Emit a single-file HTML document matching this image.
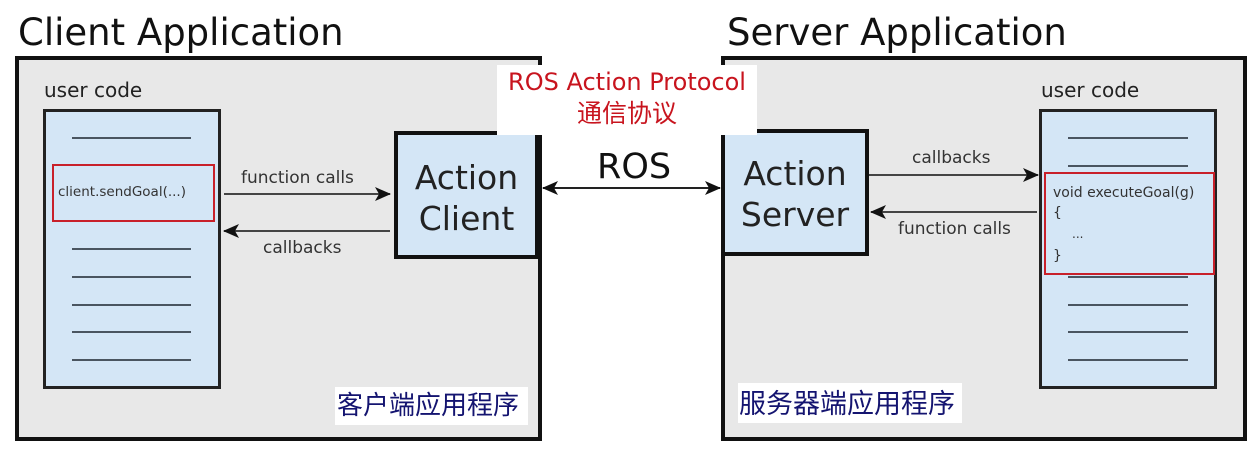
<!DOCTYPE html>
<html><head><meta charset="utf-8"><style>
body{margin:0;width:1255px;height:449px;background:#fff;overflow:hidden;position:relative;font-family:"DejaVu Sans","Liberation Sans","Noto Sans CJK SC",sans-serif;color:#222}
.a{position:absolute;box-sizing:border-box}
.t{position:absolute;white-space:nowrap;line-height:1}
.ln{position:absolute;height:2px;background:#4a5560}
</style></head><body>
<div class="t" style="left:18px;top:14px;font-size:37px;color:#111">Client Application</div>
<div class="t" style="left:727px;top:14px;font-size:37px;color:#111">Server Application</div>
<div class="a" style="left:15px;top:56px;width:527px;height:385px;border:4px solid #111;background:#e8e8e8"></div>
<div class="a" style="left:721px;top:56px;width:526px;height:385px;border:4px solid #111;background:#e8e8e8"></div>

<div class="t" style="left:44px;top:80px;font-size:20px">user code</div>
<div class="a" style="left:43px;top:109px;width:178px;height:280px;border:3px solid #222;background:#d4e6f6"></div>
<div class="ln" style="left:72px;top:137px;width:119px"></div>
<div class="ln" style="left:72px;top:165px;width:119px"></div>
<div class="ln" style="left:72px;top:248px;width:119px"></div>
<div class="ln" style="left:72px;top:276px;width:119px"></div>
<div class="ln" style="left:72px;top:304px;width:119px"></div>
<div class="ln" style="left:72px;top:331px;width:119px"></div>
<div class="ln" style="left:72px;top:359px;width:119px"></div>
<div class="a" style="left:52px;top:164px;width:163px;height:58px;border:2px solid #c8202a;background:#d4e6f6"></div>
<div class="t" style="left:58px;top:186px;font-size:13.5px;color:#333">client.sendGoal(...)</div>

<div class="t" style="left:1041px;top:80px;font-size:20px">user code</div>
<div class="a" style="left:1039px;top:109px;width:178px;height:280px;border:3px solid #222;background:#d4e6f6"></div>
<div class="ln" style="left:1068px;top:137px;width:120px"></div>
<div class="ln" style="left:1068px;top:165px;width:120px"></div>
<div class="ln" style="left:1068px;top:276px;width:120px"></div>
<div class="ln" style="left:1068px;top:304px;width:120px"></div>
<div class="ln" style="left:1068px;top:331px;width:120px"></div>
<div class="ln" style="left:1068px;top:359px;width:120px"></div>
<div class="a" style="left:1044px;top:172px;width:171px;height:103px;border:2px solid #c8202a;background:#d4e6f6"></div>
<div class="t" style="left:1053px;top:186px;font-size:14px;color:#333">void executeGoal(g)</div>
<div class="t" style="left:1053px;top:206px;font-size:14px;color:#333">{</div>
<div class="t" style="left:1072px;top:228px;font-size:12px;color:#333">...</div>
<div class="t" style="left:1053px;top:249px;font-size:14px;color:#333">}</div>

<div class="a" style="left:394px;top:131px;width:145px;height:128px;border:4px solid #111;background:#d4e6f6"></div>
<div class="t" style="left:394px;top:157px;width:145px;text-align:center;font-size:33px;line-height:41px">Action<br>Client</div>
<div class="a" style="left:721px;top:129px;width:148px;height:127px;border:4px solid #111;background:#d4e6f6"></div>
<div class="t" style="left:721px;top:153px;width:148px;text-align:center;font-size:33px;line-height:41px">Action<br>Server</div>

<div class="a" style="left:497px;top:65px;width:260px;height:70px;background:#fff"></div>
<div class="t" style="left:497px;top:70px;width:260px;text-align:center;font-size:24px;color:#c8141e">ROS Action Protocol</div>
<div class="t" style="left:497px;top:100px;width:260px;text-align:center;font-size:25px;color:#c8141e;font-family:'Noto Sans CJK SC',sans-serif">通信协议</div>
<div class="t" style="left:597px;top:150px;font-size:35px;color:#111">ROS</div>

<svg class="a" style="left:0;top:0" width="1255" height="449">
<defs>
<marker id="m" markerWidth="16" markerHeight="14" refX="15" refY="7" orient="auto" markerUnits="userSpaceOnUse"><path d="M0,0 L16,7 L0,14 L4,7z" fill="#111"/></marker>
<marker id="m2" markerWidth="16" markerHeight="14" refX="1" refY="7" orient="auto" markerUnits="userSpaceOnUse"><path d="M16,0 L0,7 L16,14 L12,7z" fill="#111"/></marker>
</defs>
<g stroke="#444" stroke-width="2" fill="none">
<line x1="224" y1="194" x2="390" y2="194" marker-end="url(#m)"/>
<line x1="390" y1="231" x2="224" y2="231" marker-end="url(#m)"/>
<line x1="869" y1="175" x2="1038" y2="175" marker-end="url(#m)"/>
<line x1="1037" y1="212" x2="871" y2="212" marker-end="url(#m)"/>
</g>
<line x1="543" y1="188" x2="720" y2="188" stroke="#222" stroke-width="2" marker-start="url(#m2)" marker-end="url(#m)"/>
</svg>
<div class="t" style="left:241px;top:170px;font-size:17px;color:#333">function calls</div>
<div class="t" style="left:263px;top:240px;font-size:17px;color:#333">callbacks</div>
<div class="t" style="left:912px;top:150px;font-size:17px;color:#333">callbacks</div>
<div class="t" style="left:898px;top:221px;font-size:17px;color:#333">function calls</div>

<div class="a" style="left:335px;top:387px;width:193px;height:38px;background:#fff"></div>
<div class="t" style="left:337px;top:391px;font-size:26px;color:#141470;font-family:'Noto Sans CJK SC',sans-serif">客户端应用程序</div>
<div class="a" style="left:738px;top:383px;width:224px;height:40px;background:#fff"></div>
<div class="t" style="left:739px;top:388px;font-size:27px;color:#141470;font-family:'Noto Sans CJK SC',sans-serif">服务器端应用程序</div>
</body></html>
